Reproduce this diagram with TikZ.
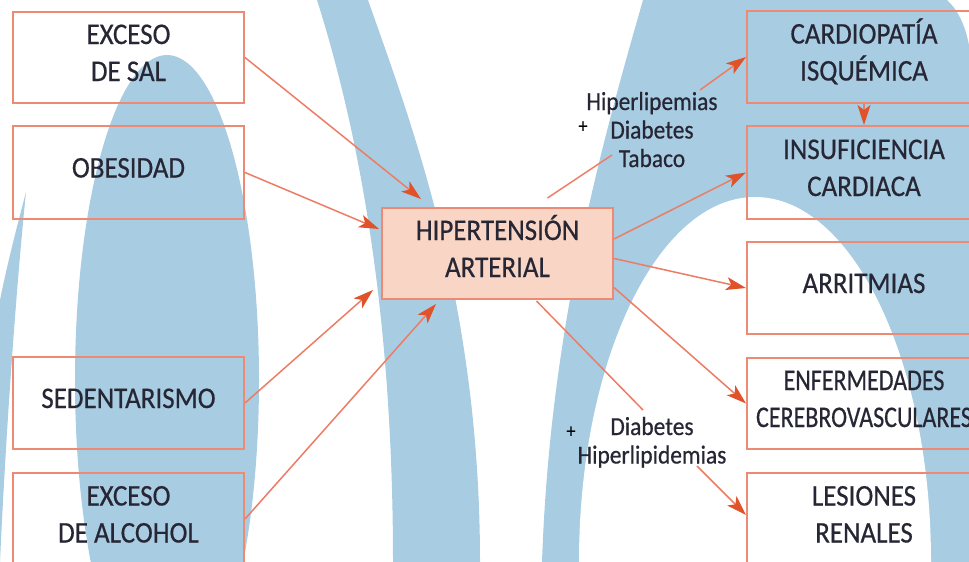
\documentclass[tikz,border=0pt]{standalone}
\usepackage{fontspec}
\setmainfont{Carlito}[FakeStretch=0.9,FakeBold=0.5]
\newfontfamily\narrowfont{Carlito}[FakeStretch=0.8,FakeBold=0.5]
\usetikzlibrary{arrows.meta,calc}
\definecolor{bgblue}{RGB}{168,204,226}
\definecolor{boxline}{RGB}{236,138,115}
\definecolor{boxfill}{RGB}{248,213,196}
\definecolor{arrline}{RGB}{236,125,100}
\definecolor{arrhead}{RGB}{224,82,42}
\definecolor{txt}{RGB}{38,38,52}
\newcommand\twol[2]{\begin{tabular}[t]{@{}c@{}}#1\\#2\end{tabular}}
\newcommand\threel[3]{\begin{tabular}[t]{@{}c@{}}#1\\#2\\#3\end{tabular}}
\begin{document}
\begin{tikzpicture}[x=1pt,y=-1pt,
  box/.style={draw=boxline, line width=2pt, minimum width=231pt, minimum height=92pt, inner sep=0pt, font=\fontsize{30}{37}\selectfont, text=txt},
  rbox/.style={box, minimum width=234pt},
  one/.style={text height=20pt, text depth=10pt},
  two/.style={text height=20pt, text depth=47pt},
  lbl/.style={font=\fontsize{26}{28.5}\selectfont, text=txt, inner sep=0pt},
  plus/.style={font=\fontsize{20}{20}\selectfont, text=black, inner sep=0pt},
  arr/.style={draw=arrline, line width=1.5pt, -{Stealth[length=20pt,width=13pt,inset=5pt,color=arrhead]}},
  ln/.style={draw=arrline, line width=1.5pt}
]
\useasboundingbox (0,0) rectangle (969,562);
\begin{scope}
\clip (0,0) rectangle (969,562);
\fill[bgblue] (167,380) ellipse [x radius=92pt, y radius=325pt];
\fill[bgblue] (26,192) .. controls (15,300) and (5,450) .. (0,562) -- (0,300) .. controls (8,260) and (20,215) .. (26,192) -- cycle;
\fill[bgblue] (317,0) .. controls (355,120) and (393,300) .. (393,562) -- (480,562) .. controls (480,300) and (410,120) .. (368,0) -- cycle;
\fill[bgblue] (643,0) -- (947,0) .. controls (958,10) and (965,25) .. (969,45) -- (969,562) -- (542,562) .. controls (550,330) and (600,150) .. (643,0) -- cycle;
\fill[white] (755,562) ellipse [x radius=176pt, y radius=365pt];
\end{scope}

% left boxes
\node[box,two,minimum height=91pt] (salt) at (128.5,57.5) {\twol{EXCESO}{DE SAL}};
\node[box,one,minimum height=93pt] (obes) at (128.5,172.5) {OBESIDAD};
\node[box,one] (sed) at (128.5,403) {SEDENTARISMO};
\node[box,two] (alc) at (128.5,519) {\twol{EXCESO}{DE ALCOHOL}};
% centre
\node[box,two,fill=boxfill,minimum height=91pt] (hta) at (497.5,253.5) {\twol{HIPERTENSIÓN}{ARTERIAL}};
% right boxes
\node[rbox,two] (cardio) at (864,57) {\twol{CARDIOPATÍA}{ISQUÉMICA}};
\node[rbox,two,minimum height=93pt] (insuf) at (864,172.5) {\twol{INSUFICIENCIA}{CARDIACA}};
\node[rbox,one] (arrit) at (864,288) {ARRITMIAS};
\node[rbox,two,minimum height=91pt,font=\narrowfont\fontsize{30}{37}\selectfont] (enf) at (864,403.5) {\twol{ENFERMEDADES}{CEREBROVASCULARES}};
\node[rbox,two] (les) at (864,519) {\twol{LESIONES}{RENALES}};
% labels
\node[lbl,text height=18pt,text depth=63pt] (lab1) at (652,132.5) {\threel{Hiperlipemias}{Diabetes}{Tabaco}};
\node[lbl,text height=18pt,text depth=33pt] (lab2) at (652,442.5) {\twol{Diabetes}{Hiperlipidemias}};
\node[plus] (p1) at (583,127) {+};
\node[plus] (p2) at (571,432) {+};

% connectors
\draw[arr] (salt.east) -- ($(hta.north west)+(40,-8)$);
\draw[arr] (obes.east) -- ($(hta.north west)+(-2,22)$);
\draw[arr] (sed.east) -- ($(hta.south west)+(-8,-10)$);
\draw[arr] (alc.east) -- ($(hta.south west)+(55,4)$);
\draw[ln] ($(hta.north)+(50,-9)$) -- ($(lab1.center)+(-40,22.5)$);
\draw[arr] ($(lab1.center)+(48,-42.5)$) -- (cardio.west);
\draw[arr] ($(hta.east)+(0,-14.5)$) -- (insuf.west);
\draw[arr] ($(hta.east)+(0,5)$) -- (arrit.west);
\draw[arr] ($(hta.east)+(0,34)$) -- (enf.west);
\draw[ln] ($(hta.south)+(39,1)$) -- ($(lab2.center)+(-9,-32.5)$);
\draw[arr] ($(lab2.center)+(45,23.5)$) -- ($(les.west)+(0,-4)$);
\draw[arr] (cardio.south) -- (insuf.north);
\end{tikzpicture}
\end{document}
